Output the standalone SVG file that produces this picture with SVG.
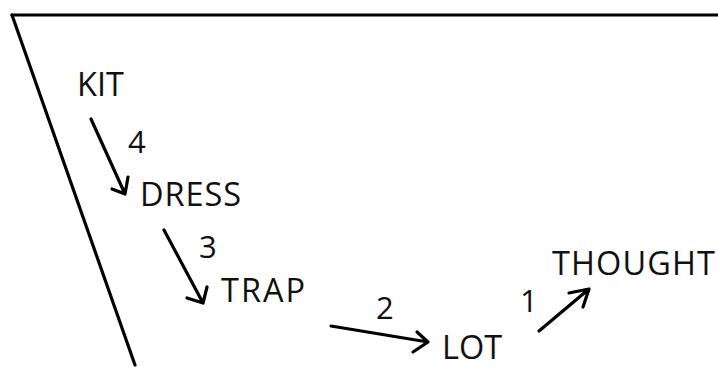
<svg xmlns="http://www.w3.org/2000/svg" width="718" height="367" viewBox="0 0 718 367">
  <style>
    .frame { fill: none; stroke: #000; stroke-width: 3.2; stroke-linecap: round; }
    .edge { fill: none; stroke: #000; stroke-width: 3.2; stroke-linecap: round; stroke-linejoin: round; }
    .label { font-family: "Open Sans", "Noto Sans", "DejaVu Sans", sans-serif; font-size: 32.5px; fill: #111; }
    .num { font-family: "Open Sans", "Noto Sans", "DejaVu Sans", sans-serif; font-size: 31px; fill: #111; }
  </style>
  <rect width="718" height="367" fill="#fff"/>

  <!-- frame edges -->
  <path class="frame" d="M12,15 L718,15"/>
  <path class="frame" d="M12,15 L135,365"/>

  <!-- vowel nodes -->
  <g id="kit"><text class="label" x="77" y="96">KIT</text></g>
  <g id="dress"><text class="label" x="140" y="206" textLength="101">DRESS</text></g>
  <g id="trap"><text class="label" x="221" y="302" textLength="84">TRAP</text></g>
  <g id="lot"><text class="label" x="442" y="359">LOT</text></g>
  <g id="thought"><text class="label" x="552" y="275" textLength="163">THOUGHT</text></g>

  <!-- shift arrows with step numbers -->
  <g id="connectors">
    <path class="edge" d="M91,119 L125,194 M112,189 L125,194 L128,177"/>
    <path class="edge" d="M164,230 L203,303 M187,298 L203,303 L207,287"/>
    <path class="edge" d="M331,326 L428,342 M417,332 L428,342 L413,352"/>
    <path class="edge" d="M539,331 L589,289 M569,293 L589,289 L583,307"/>
    <text class="num" x="128" y="153">4</text>
    <text class="num" x="199" y="258">3</text>
    <text class="num" x="376" y="319">2</text>
    <text class="num" x="520" y="312">1</text>
  </g>
</svg>
